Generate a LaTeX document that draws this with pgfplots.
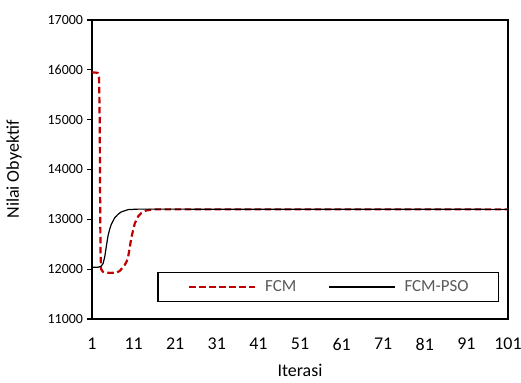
\documentclass[border=0pt]{standalone}
\usepackage{pgfplots}
\pgfplotsset{compat=1.18}
\usepackage{fontspec}
\setmainfont{Carlito}
\definecolor{fcmred}{RGB}{192,0,0}
\definecolor{txtgray}{RGB}{89,89,89}
\begin{document}
\begin{tikzpicture}
\begin{axis}[
  name=ax,
  scale only axis,
  width=416bp, height=299bp,
  xmin=1, xmax=101, ymin=11000, ymax=17000,
  xtick={1,11,...,101},
  ytick={11000,12000,...,17000},
  axis line style={line width=1.3bp},
  ytick pos=left,
  xtick style={draw=none},
  ytick style={black, line width=1.3bp},
  tick align=outside, major tick length=4.5bp,
  scaled y ticks=false,
  /pgf/number format/assume math mode=true,
  y tick label style={/pgf/number format/1000 sep={}, font=\fontsize{14}{16}\selectfont, xshift=-1bp},
  x tick label style={font=\fontsize{18}{20}\selectfont, yshift=-11bp},
  xlabel={Iterasi}, ylabel={Nilai Obyektif},
  xlabel style={font=\fontsize{18}{20}\selectfont, yshift=-7bp},
  ylabel style={font=\fontsize{18}{20}\selectfont, yshift=19bp},
  legend columns=2,
  legend image code/.code={\draw[#1] (0bp,0bp) -- (66bp,0bp);},
  legend style={
    at={(axis cs:16.7,11940)}, anchor=north west,
    draw=black, line width=1.3bp,
    inner xsep=30bp, inner ysep=8bp,
    nodes={inner sep=0bp, text=txtgray, font=\fontsize{17}{19}\selectfont},
    /tikz/every odd column/.append style={column sep=9bp},
    /tikz/every even column/.append style={column sep=32bp},
  },
]
\addplot[fcmred, line width=2.2bp, dash pattern=on 6.5bp off 3.5bp, line join=round] coordinates {
(1,15950)(2.4,15940)(2.7,15850)(2.85,15000)(2.95,13500)(3.05,12300)(3.2,12000)(3.6,11950)(4.4,11930)(5.5,11925)(7,11935)(7.6,11960)(8.05,12000)(8.85,12080)(9.3,12150)(9.7,12250)(10.1,12450)(10.5,12650)(11.3,12920)(12.1,13060)(12.9,13130)(14.1,13180)(16.1,13200)(101,13200)
};
\addlegendentry{FCM}
\addplot[black, line width=1.2bp, line join=round] coordinates {
(1,12040)(2.5,12040)(3.2,12060)(3.65,12110)(4.05,12240)(4.45,12460)(4.85,12670)(5.25,12800)(5.65,12900)(6.45,13030)(7.25,13100)(8.05,13150)(9.7,13195)(12.1,13205)(101,13200)
};
\addlegendentry{FCM-PSO}
\end{axis}
\pgfresetboundingbox
\path[use as bounding box] ([shift={(-92bp,-64bp)}]ax.south west) rectangle ([shift={(13bp,20bp)}]ax.north east);
\end{tikzpicture}
\end{document}
